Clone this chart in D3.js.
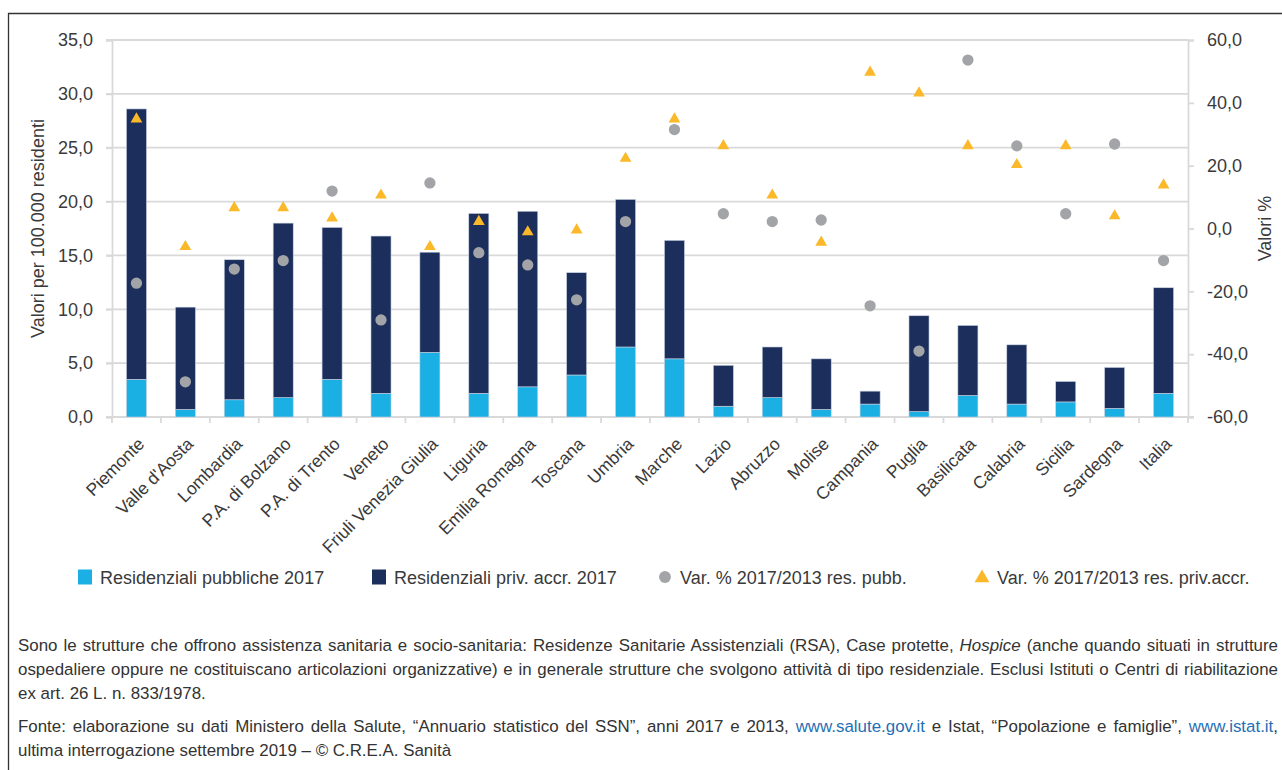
<!DOCTYPE html>
<html>
<head>
<meta charset="utf-8">
<script src="https://d3js.org/d3.v7.min.js"></script>
<style>
    body { margin: 0; background: #fff; }
    #wrap { position: relative; width: 1282px; height: 770px; }
    #drawing_region { position: absolute; left: 0; top: 0; }
    #note {
        position: absolute; left: 18px; top: 634px; width: 1260px;
        font-family: "Liberation Sans", Arial, sans-serif;
        font-size: 16.9px; line-height: 24px; color: #333;
    }
    #note p { margin: 0 0 9px 0; text-align: justify; }
    #note a { color: #1f6fb4; text-decoration: none; }
</style>
</head>
<body>
<div id="wrap">
    <svg id="drawing_region"></svg>
    <div id="note">
        <p>Sono le strutture che offrono assistenza sanitaria e socio-sanitaria: Residenze Sanitarie Assistenziali (RSA), Case protette, <i>Hospice</i> (anche quando situati in strutture ospedaliere oppure ne costituiscano articolazioni organizzative) e in generale strutture che svolgono attività di tipo residenziale. Esclusi Istituti o Centri di riabilitazione ex&nbsp;art. 26 L. n. 833/1978.</p>
        <p>Fonte: elaborazione su dati Ministero della Salute, “Annuario statistico del SSN”, anni 2017 e 2013, <a>www.salute.gov.it</a> e Istat, “Popolazione e famiglie”, <a>www.istat.it</a>, ultima interrogazione settembre 2019 – © C.R.E.A. Sanità</p>
    </div>
</div>
<script>
const regions = ["Piemonte", "Valle d'Aosta", "Lombardia", "P.A. di Bolzano", "P.A. di Trento", "Veneto",
    "Friuli Venezia Giulia", "Liguria", "Emilia Romagna", "Toscana", "Umbria", "Marche", "Lazio",
    "Abruzzo", "Molise", "Campania", "Puglia", "Basilicata", "Calabria", "Sicilia", "Sardegna", "Italia"];

// valori per 100.000 residenti
const pubbliche = [3.5, 0.7, 1.6, 1.8, 3.5, 2.2, 6.0, 2.2, 2.8, 3.9, 6.5, 5.4, 1.0, 1.8, 0.7, 1.2, 0.5, 2.0, 1.2, 1.4, 0.8, 2.2];
const private_acc = [25.1, 9.5, 13.0, 16.2, 14.1, 14.6, 9.3, 16.7, 16.3, 9.5, 13.7, 11.0, 3.8, 4.7, 4.7, 1.2, 8.9, 6.5, 5.5, 1.9, 3.8, 9.8];

// var. % 2017/2013
const var_pubb = [-17.4, -48.8, -12.9, -10.2, 11.9, -29.1, 14.5, -7.7, -11.6, -22.7, 2.2, 31.5, 4.7, 2.2, 2.7, -24.6, -39.0, 53.6, 26.3, 4.7, 26.9, -10.2];
const var_priv = [34.8, -5.8, 6.6, 6.6, 3.3, 10.6, -5.8, 2.2, -1.1, -0.5, 22.3, 34.8, 26.3, 10.6, -4.4, 49.7, 43.1, 26.3, 20.3, 26.3, 4.0, 13.8];

const left_ticks = [0, 5, 10, 15, 20, 25, 30, 35];
const right_ticks = [-60, -40, -20, 0, 20, 40, 60];

const legend_labels = ["Residenziali pubbliche 2017", "Residenziali priv. accr. 2017",
    "Var. % 2017/2013 res. pubb.", "Var. % 2017/2013 res. priv.accr."];

const data = regions.map((r, i) => ({
    region: r, pub: pubbliche[i], priv: private_acc[i], vpub: var_pubb[i], vpriv: var_priv[i]
}));

class ComboChart {
    constructor(config, data) {
        this.config = {
            parent: config.parent,
            width: config.width || 1282,
            height: config.height || 770,
            margin: config.margin || { top: 40, right: 94, bottom: 353, left: 112 }
        };
        this.data = data;
        this.init();
    }

    init() {
        let self = this;

        self.svg = d3.select(self.config.parent)
            .attr('width', self.config.width)
            .attr('height', self.config.height)
            .style('font-family', '"Liberation Sans", Arial, sans-serif');

        // cornice
        self.svg.append('path')
            .attr('d', 'M1282,13.5H8.5V770')
            .attr('fill', 'none')
            .attr('stroke', '#333')
            .attr('stroke-width', 1.3);

        self.chart = self.svg.append('g')
            .attr('transform', `translate(${self.config.margin.left},${self.config.margin.top})`);

        self.inner_width = self.config.width - self.config.margin.left - self.config.margin.right;
        self.inner_height = self.config.height - self.config.margin.top - self.config.margin.bottom;

        self.xscale = d3.scaleBand()
            .domain(regions)
            .range([0, self.inner_width])
            .paddingInner(0.59)
            .paddingOuter(0.295);

        self.yscale = d3.scaleLinear()
            .domain([0, 35])
            .range([self.inner_height, 0]);

        self.y2scale = d3.scaleLinear()
            .domain([-60, 60])
            .range([self.inner_height, 0]);

        self.fmt = d3.formatLocale({ decimal: ",", thousands: ".", grouping: [3], currency: ["", "€"], minus: "-" }).format(".1f");
    }

    update() {
        let self = this;
        self.stack = d3.stack().keys(['pub', 'priv'])(self.data);
        self.render();
    }

    render() {
        let self = this;
        const grid = '#d9d9d9';
        const textc = '#3a3a3a';

        // griglia
        self.chart.append('g').selectAll('line')
            .data(left_ticks)
            .join('line')
            .attr('x1', -6).attr('x2', self.inner_width)
            .attr('y1', d => self.yscale(d)).attr('y2', d => self.yscale(d))
            .attr('stroke', grid).attr('stroke-width', 1.8);

        // asse sinistro
        const yaxis = self.chart.append('g')
            .call(d3.axisLeft(self.yscale).tickValues(left_ticks).tickFormat(self.fmt).tickSize(6).tickPadding(13));
        yaxis.select('.domain').attr('stroke', grid).attr('stroke-width', 1.8);
        yaxis.selectAll('.tick line').attr('stroke', grid).attr('stroke-width', 1.8);
        yaxis.selectAll('text').attr('font-size', 18).attr('fill', textc)
            .attr('font-family', 'inherit');

        // asse destro
        const y2axis = self.chart.append('g')
            .attr('transform', `translate(${self.inner_width},0)`)
            .call(d3.axisRight(self.y2scale).tickValues(right_ticks).tickFormat(self.fmt).tickSize(6).tickPadding(13));
        y2axis.select('.domain').attr('stroke', grid).attr('stroke-width', 1.8);
        y2axis.selectAll('.tick line').attr('stroke', grid).attr('stroke-width', 1.8);
        y2axis.selectAll('text').attr('font-size', 18).attr('fill', textc)
            .attr('font-family', 'inherit');

        // asse x con tacche tra le categorie
        const step = self.xscale.step();
        self.chart.append('line')
            .attr('x1', -6).attr('x2', self.inner_width + 6)
            .attr('y1', self.inner_height).attr('y2', self.inner_height)
            .attr('stroke', grid).attr('stroke-width', 1.8);
        self.chart.append('g').selectAll('line')
            .data(d3.range(regions.length + 1))
            .join('line')
            .attr('x1', d => d * step).attr('x2', d => d * step)
            .attr('y1', self.inner_height).attr('y2', self.inner_height + 6)
            .attr('stroke', grid).attr('stroke-width', 1.8);

        self.chart.append('g').selectAll('text')
            .data(regions)
            .join('text')
            .attr('transform', d => `translate(${self.xscale(d) + self.xscale.bandwidth() / 2 + 9},${self.inner_height + 28}) rotate(-45)`)
            .attr('text-anchor', 'end')
            .attr('font-size', 17.5)
            .attr('fill', textc)
            .text(d => d);

        // barre impilate
        const colors = { pub: '#1bb0e4', priv: '#1c2e5b' };
        self.chart.append('g').selectAll('g')
            .data(self.stack)
            .join('g')
            .attr('fill', d => colors[d.key])
            .selectAll('rect')
            .data(d => d)
            .join('rect')
            .attr('x', d => self.xscale(d.data.region))
            .attr('width', self.xscale.bandwidth())
            .attr('y', d => self.yscale(d[1]))
            .attr('height', d => self.yscale(d[0]) - self.yscale(d[1]))
            .attr('stroke', '#c9d3e3')
            .attr('stroke-width', 0.6);

        // marcatori
        const cx = d => self.xscale(d.region) + self.xscale.bandwidth() / 2;
        self.chart.append('g').selectAll('path')
            .data(self.data)
            .join('path')
            .attr('d', d3.symbol(d3.symbolCircle, 100))
            .attr('transform', d => `translate(${cx(d)},${self.y2scale(d.vpub)})`)
            .attr('fill', '#a3a4a7');
        self.chart.append('g').selectAll('path')
            .data(self.data)
            .join('path')
            .attr('d', d3.symbol(d3.symbolTriangle, 60))
            .attr('transform', d => `translate(${cx(d)},${self.y2scale(d.vpriv)})`)
            .attr('fill', '#fbb829');

        // titoli assi
        self.svg.append('text')
            .attr('transform', `translate(44,${self.config.margin.top + self.inner_height / 2}) rotate(-90)`)
            .attr('text-anchor', 'middle')
            .attr('font-size', 18)
            .attr('fill', textc)
            .text('Valori per 100.000 residenti');
        self.svg.append('text')
            .attr('transform', `translate(1271,${self.config.margin.top + self.inner_height / 2}) rotate(-90)`)
            .attr('text-anchor', 'middle')
            .attr('font-size', 18)
            .attr('fill', textc)
            .text('Valori %');

        // legenda
        const lx = [78, 372, 658, 975];
        const leg = self.svg.append('g').selectAll('g')
            .data(legend_labels)
            .join('g')
            .attr('transform', (d, i) => `translate(${lx[i]},577)`);
        leg.filter((d, i) => i < 2).append('rect')
            .attr('x', 0).attr('y', -7.5).attr('width', 14).attr('height', 15)
            .attr('fill', (d, i) => i === 0 ? colors.pub : colors.priv);
        leg.filter((d, i) => i === 2).append('path')
            .attr('d', d3.symbol(d3.symbolCircle, 110))
            .attr('transform', 'translate(7,0)')
            .attr('fill', '#a3a4a7');
        leg.filter((d, i) => i === 3).append('path')
            .attr('d', d3.symbol(d3.symbolTriangle, 95))
            .attr('transform', 'translate(7,1)')
            .attr('fill', '#fbb829');
        leg.append('text')
            .attr('x', 22)
            .attr('y', 7)
            .attr('font-size', 18)
            .attr('fill', textc)
            .text(d => d);
    }
}

const chart = new ComboChart({ parent: '#drawing_region', width: 1282, height: 770 }, data);
chart.update();
</script>
</body>
</html>
